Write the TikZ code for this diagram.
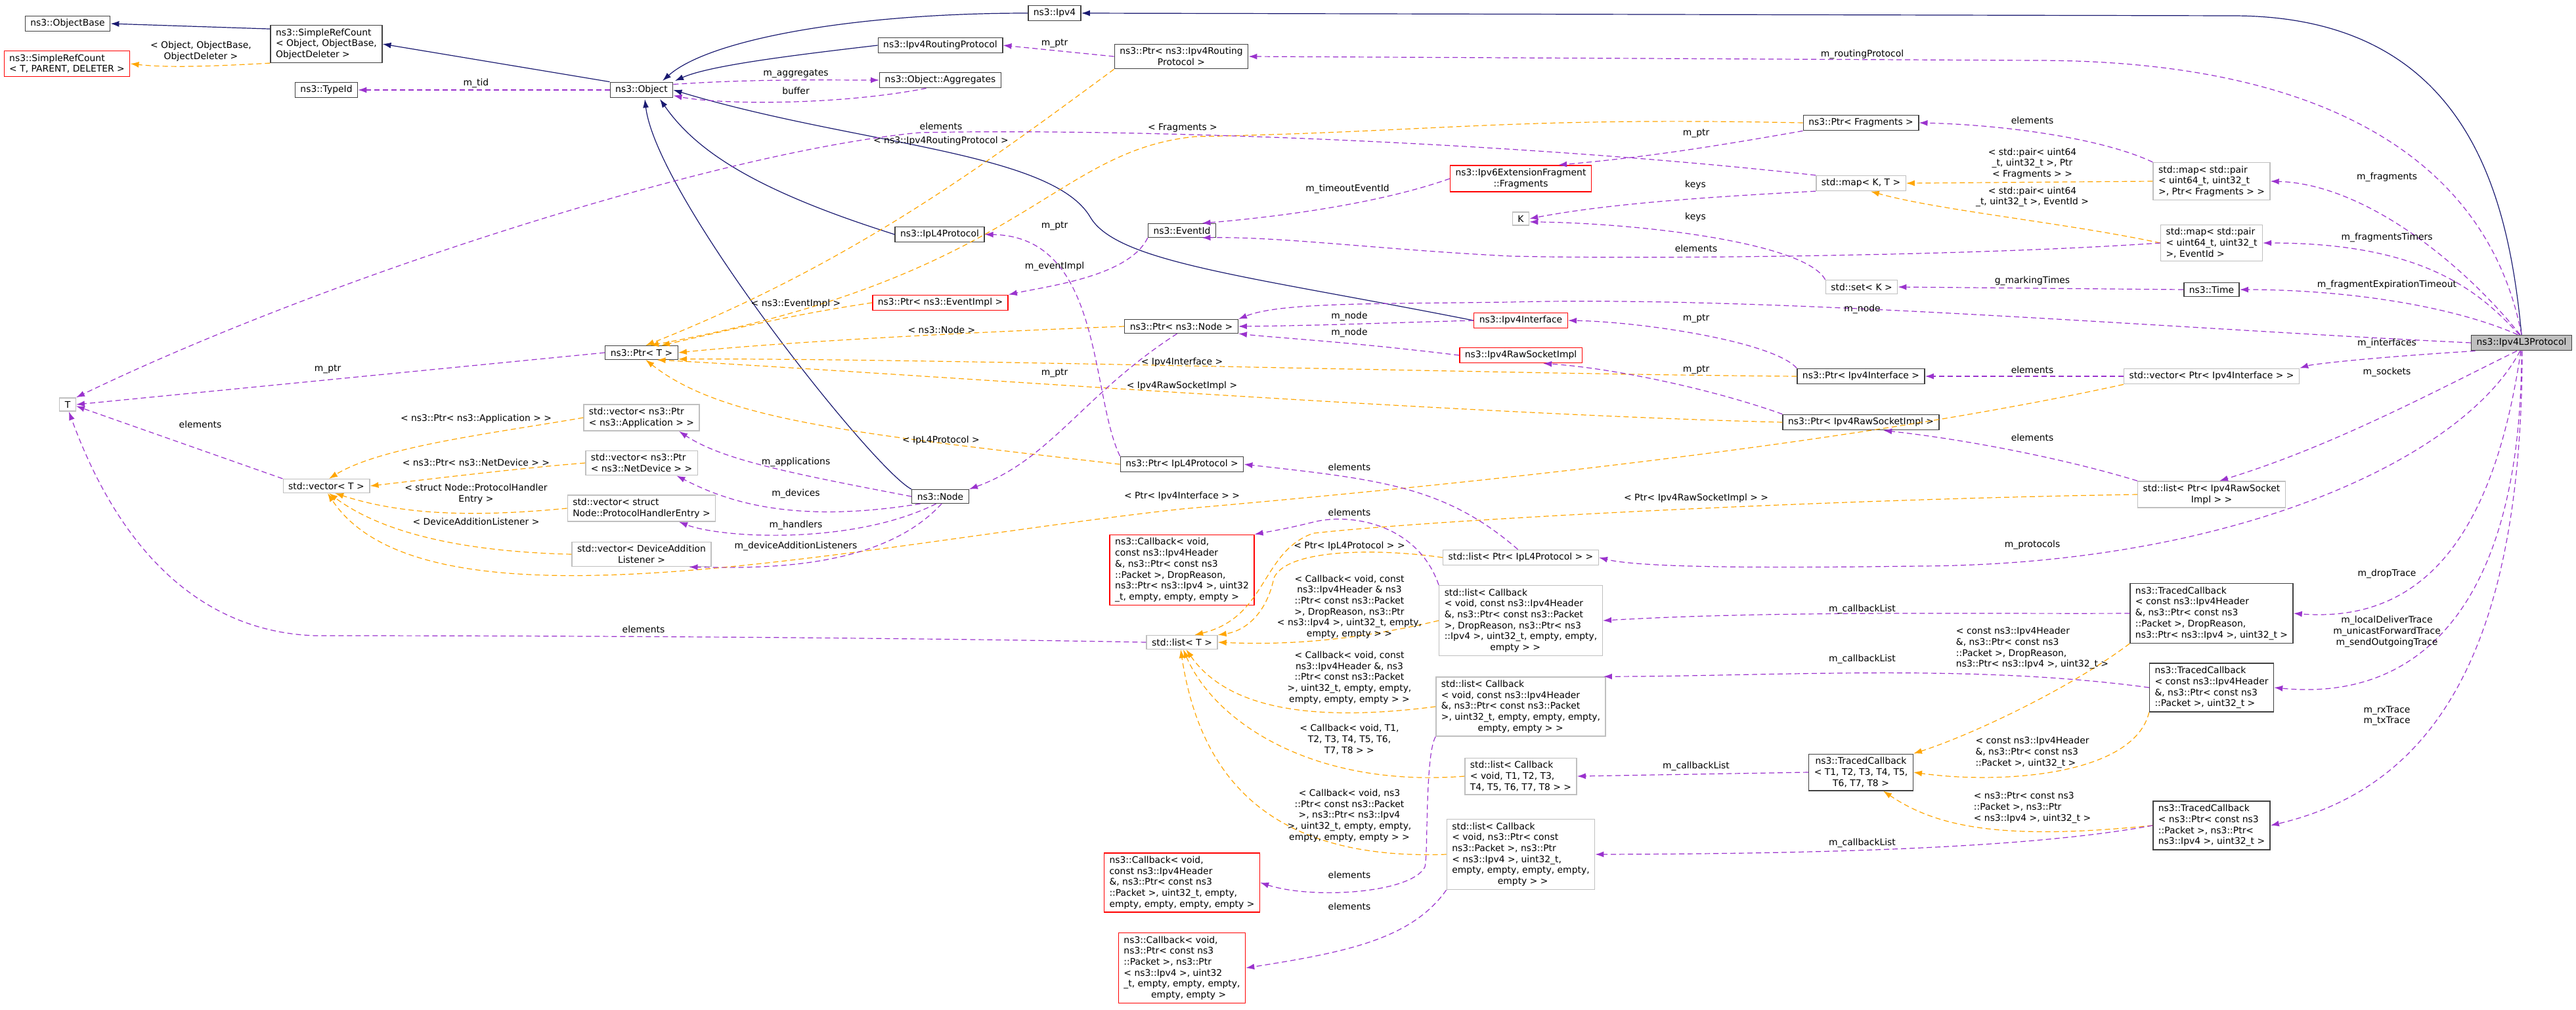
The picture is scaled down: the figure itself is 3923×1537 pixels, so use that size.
\documentclass[tikz,border=0pt]{standalone}
\usepackage{fontspec}
\setmainfont{DejaVu Sans}
\usetikzlibrary{arrows.meta}
\definecolor{inhc}{RGB}{25,25,112}
\definecolor{memc}{RGB}{154,50,205}
\definecolor{tplc}{RGB}{255,165,0}
\definecolor{grayb}{RGB}{191,191,191}
\definecolor{darkb}{RGB}{64,64,64}
\tikzset{
 every node/.style={font=\fontsize{13.9}{16.7}\selectfont},
 box/.style={draw=darkb,line width=1.4pt,inner xsep=8pt,inner ysep=5pt,align=left,fill=white},
 gbox/.style={box,draw=grayb},
 rbox/.style={box,draw=red},
 lbl/.style={align=center,inner sep=1pt},
 tip/.style={-{Latex[length=13pt,width=9pt]}},
 inh/.style={tip,draw=inhc,line width=1.2pt},
 mem/.style={tip,draw=memc,line width=1.2pt,dash pattern=on 8pt off 5pt},
 tpl/.style={tip,draw=tplc,line width=1.2pt,dash pattern=on 8pt off 5pt},
}
\begin{document}
\begin{tikzpicture}[x=1pt,y=-1pt]
\useasboundingbox (0,0) rectangle (3923,1537);
% nodes
\node[box] (objbase) at (103,36) {ns3::ObjectBase};
\node[box] (srcobj) at (497,67) {ns3::SimpleRefCount\\< Object, ObjectBase,\\ObjectDeleter >};
\node[rbox] (srct) at (102,97) {ns3::SimpleRefCount\\< T, PARENT, DELETER >};
\node[box] (typeid) at (497,137) {ns3::TypeId};
\node[box] (object) at (977,137) {ns3::Object};
\node[box] (ipv4) at (1606,20) {ns3::Ipv4};
\node[box] (iprp) at (1432,69) {ns3::Ipv4RoutingProtocol};
\node[box] (agg) at (1432,122) {ns3::Object::Aggregates};
\node[box,align=center] (ptrrp) at (1799,86) {ns3::Ptr< ns3::Ipv4Routing\\Protocol >};
\node[box] (ipl4) at (1431,357) {ns3::IpL4Protocol};
\node[box] (eventid) at (1800,351) {ns3::EventId};
\node[rbox] (ptrevimpl) at (1432,461) {ns3::Ptr< ns3::EventImpl >};
\node[box] (ptrnode) at (1799,497) {ns3::Ptr< ns3::Node >};
\node[box] (ptrfrag) at (2834,187) {ns3::Ptr< Fragments >};
\node[rbox,align=center] (v6frag) at (2316,272) {ns3::Ipv6ExtensionFragment\\::Fragments};
\node[gbox] (mapkt) at (2834,279) {std::map< K, T >};
\node[gbox] (K) at (2316,333) {K};
\node[gbox] (setk) at (2835,437) {std::set< K >};
\node[rbox] (ipv4if) at (2316,488) {ns3::Ipv4Interface};
\node[gbox] (mapfrag) at (3368,276) {std::map< std::pair\\< uint64\_t, uint32\_t\\ >, Ptr< Fragments > >};
\node[gbox] (mapev) at (3368,370) {std::map< std::pair\\< uint64\_t, uint32\_t\\ >, EventId >};
\node[box] (time) at (3368,441) {ns3::Time};
\node[box,fill=grayb] (l3) at (3840,522) {ns3::Ipv4L3Protocol};
\node[gbox] (T) at (103,616) {T};
\node[gbox] (vect) at (497,740) {std::vector< T >};
\node[box] (ptrt) at (977,537) {ns3::Ptr< T >};
\node[gbox] (vecapp) at (977,636) {std::vector< ns3::Ptr\\< ns3::Application > >};
\node[gbox] (vecnet) at (977,705) {std::vector< ns3::Ptr\\< ns3::NetDevice > >};
\node[gbox] (vechand) at (977,774) {std::vector< struct\\Node::ProtocolHandlerEntry >};
\node[gbox,align=center] (vecdal) at (977,844) {std::vector< DeviceAddition\\Listener >};
\node[box] (node) at (1432,756) {ns3::Node};
\node[box] (ptripl4) at (1800,707) {ns3::Ptr< IpL4Protocol >};
\node[rbox] (cb1) at (1800,868) {ns3::Callback< void,\\ const ns3::Ipv4Header\\ \&, ns3::Ptr< const ns3\\::Packet >, DropReason,\\ ns3::Ptr< ns3::Ipv4 >, uint32\\ \_t, empty, empty, empty >};
\node[gbox] (listt) at (1800,978) {std::list< T >};
\node[rbox] (rawsock) at (2316,541) {ns3::Ipv4RawSocketImpl};
\node[box] (ptrif) at (2834,573) {ns3::Ptr< Ipv4Interface >};
\node[box] (ptrraw) at (2834,643) {ns3::Ptr< Ipv4RawSocketImpl >};
\node[gbox] (listipl4) at (2316,849) {std::list< Ptr< IpL4Protocol > >};
\node[gbox] (listcbdrop) at (2316,945) {std::list< Callback\\< void, const ns3::Ipv4Header\\ \&, ns3::Ptr< const ns3::Packet\\ >, DropReason, ns3::Ptr< ns3\\::Ipv4 >, uint32\_t, empty, empty,\\\hspace*{5em}empty > >};
\node[gbox] (listcbhdr) at (2316,1076) {std::list< Callback\\< void, const ns3::Ipv4Header\\ \&, ns3::Ptr< const ns3::Packet\\ >, uint32\_t, empty, empty, empty,\\\hspace*{4em}empty, empty > >};
\node[gbox] (listcbt) at (2316,1182) {std::list< Callback\\< void, T1, T2, T3,\\ T4, T5, T6, T7, T8 > >};
\node[gbox] (listcbptr) at (2316,1301) {std::list< Callback\\< void, ns3::Ptr< const\\ ns3::Packet >, ns3::Ptr\\< ns3::Ipv4 >, uint32\_t,\\ empty, empty, empty, empty,\\\hspace*{5em}empty > >};
\node[rbox] (cb2) at (1800,1344) {ns3::Callback< void,\\ const ns3::Ipv4Header\\ \&, ns3::Ptr< const ns3\\::Packet >, uint32\_t, empty,\\ empty, empty, empty, empty >};
\node[rbox] (cb3) at (1800,1474) {ns3::Callback< void,\\ ns3::Ptr< const ns3\\::Packet >, ns3::Ptr\\< ns3::Ipv4 >, uint32\\\_t, empty, empty, empty,\\\hspace*{3em}empty, empty >};
\node[gbox] (vecif) at (3368,573) {std::vector< Ptr< Ipv4Interface > >};
\node[gbox,align=center] (listraw) at (3368,753) {std::list< Ptr< Ipv4RawSocket\\Impl > >};
\node[box] (tcdrop) at (3368,934) {ns3::TracedCallback\\< const ns3::Ipv4Header\\ \&, ns3::Ptr< const ns3\\::Packet >, DropReason,\\ ns3::Ptr< ns3::Ipv4 >, uint32\_t >};
\node[box] (tchdr) at (3368,1047) {ns3::TracedCallback\\< const ns3::Ipv4Header\\ \&, ns3::Ptr< const ns3\\ ::Packet >, uint32\_t >};
\node[box,align=center] (tct) at (2834,1176) {ns3::TracedCallback\\< T1, T2, T3, T4, T5,\\T6, T7, T8 >};
\node[box] (tcptr) at (3368,1257) {ns3::TracedCallback\\< ns3::Ptr< const ns3\\::Packet >, ns3::Ptr<\\ ns3::Ipv4 >, uint32\_t >};

% inheritance
\draw[inh] (srcobj.165) -- (objbase.east);
\draw[inh] (object.north west) -- (srcobj.east);
\draw[inh] (ipv4.west) .. controls (1300,20) and (1080,60) .. (1009,123);
\draw[inh] (iprp.west) .. controls (1200,85) and (1080,100) .. (1028,123);
\draw[inh] (ipl4.west) .. controls (1150,290) and (1060,230) .. (1005,151);
\draw[inh] (node.north west) .. controls (1330,715) and (1000,300) .. (982,151);
\draw[inh] (ipv4if.west) .. controls (1900,420) and (1700,400) .. (1660,330) .. controls (1600,230) and (1300,220) .. (object.east);
\draw[inh] (l3.north) .. controls (3820,300) and (3760,24) .. (3400,24) -- (ipv4.east);

% templates
\draw[tpl] (srcobj.south west) .. controls (340,100) and (260,104) .. (srct.east);
\draw[tpl] (ptrrp.south west) .. controls (1500,250) and (1300,400) .. (ptrt.60);
\draw[tpl] (ptrfrag.west) .. controls (2300,178) and (2200,200) .. (1820,208) .. controls (1600,230) and (1560,420) .. (ptrt.40);
\draw[tpl] (ptrevimpl.west) .. controls (1200,480) and (1100,505) .. (ptrt.20);
\draw[tpl] (ptrnode.west) .. controls (1500,505) and (1200,520) .. (ptrt.east);
\draw[tpl] (ptrif.west) .. controls (2300,570) and (1400,545) .. (ptrt.-10);
\draw[tpl] (ptrraw.west) .. controls (2200,630) and (1400,570) .. (ptrt.-25);
\draw[tpl] (ptripl4.west) .. controls (1300,660) and (1100,640) .. (ptrt.-60);
\draw[tpl] (vecapp.west) .. controls (750,660) and (580,680) .. (vect.70);
\draw[tpl] (vecnet.west) .. controls (800,712) and (650,730) .. (vect.east);
\draw[tpl] (vechand.west) .. controls (700,790) and (600,780) .. (vect.-40);
\draw[tpl] (vecdal.west) .. controls (700,840) and (580,810) .. (vect.-70);
\draw[tpl] (vecif.south west) .. controls (2800,680) and (2200,740) .. (1800,775) .. controls (1300,830) and (650,980) .. (vect.-80);
\draw[tpl] (mapfrag.west) -- (mapkt.east);
\draw[tpl] (mapev.west) .. controls (3150,340) and (2950,320) .. (mapkt.-40);
\draw[tpl] (listraw.west) .. controls (2800,760) and (2200,790) .. (2000,812) .. controls (1920,840) and (1930,940) .. (listt.30);
\draw[tpl] (listipl4.west) .. controls (2100,835) and (1960,835) .. (1940,880) .. controls (1930,930) and (1900,960) .. (listt.north east);
\draw[tpl] (listcbdrop.west) .. controls (2050,978) and (1950,982) .. (listt.east);
\draw[tpl] (listcbhdr.west) .. controls (2000,1100) and (1870,1080) .. (listt.-60);
\draw[tpl] (listcbt.west) .. controls (2000,1200) and (1850,1100) .. (listt.-80);
\draw[tpl] (listcbptr.west) .. controls (1950,1310) and (1830,1200) .. (listt.-100);
\draw[tpl] (tcdrop.south west) .. controls (3150,1050) and (3000,1120) .. (tct.north east);
\draw[tpl] (tchdr.south west) .. controls (3250,1180) and (3050,1195) .. (tct.east);
\draw[tpl] (tcptr.west) .. controls (3050,1280) and (2950,1260) .. (tct.-40);

% members
\draw[mem] (object.west) -- (typeid.east);
\draw[mem] (object.10) .. controls (1150,120) and (1250,122) .. (agg.west);
\draw[mem] (agg.-150) .. controls (1280,160) and (1100,160) .. (object.-10);
\draw[mem] (ptrrp.west) -- (iprp.east);
\draw[mem] (l3.north) .. controls (3790,250) and (3550,92) .. (3100,92) -- (ptrrp.east);
\draw[mem] (vect.north west) -- (T.-10);
\draw[mem] (ptrt.west) -- (T.east);
\draw[mem] (listt.west) .. controls (1200,968) and (600,968) .. (480,968) .. controls (250,960) and (150,750) .. (T.-80);
\draw[mem] (mapkt.170) .. controls (2300,215) and (1700,195) .. (1400,202) .. controls (1100,230) and (500,420) .. (T.north east);
\draw[mem] (ptrfrag.south west) .. controls (2600,225) and (2500,240) .. (v6frag.20);
\draw[mem] (mapfrag.north west) .. controls (3200,210) and (3050,190) .. (ptrfrag.east);
\draw[mem] (l3.100) .. controls (3750,400) and (3600,280) .. (mapfrag.east);
\draw[mem] (v6frag.west) .. controls (2100,310) and (1950,330) .. (eventid.20);
\draw[mem] (mapkt.-170) .. controls (2600,300) and (2450,310) .. (K.east);
\draw[mem] (setk.north west) .. controls (2750,370) and (2500,340) .. (K.-20);
\draw[mem] (mapev.west) .. controls (3000,390) and (2500,395) .. (2300,390) .. controls (2100,380) and (1950,360) .. (eventid.-20);
\draw[mem] (l3.105) .. controls (3780,450) and (3700,370) .. (mapev.east);
\draw[mem] (eventid.south west) .. controls (1720,420) and (1600,435) .. (ptrevimpl.north east);
\draw[mem] (time.west) -- (setk.east);
\draw[mem] (l3.115) .. controls (3720,460) and (3550,441) .. (time.east);
\draw[mem] (l3.west) .. controls (3300,500) and (2700,450) .. (2300,460) .. controls (2100,463) and (1950,460) .. (ptrnode.north east);
\draw[mem] (ipv4if.west) .. controls (2100,492) and (2000,496) .. (ptrnode.east);
\draw[mem] (rawsock.west) .. controls (2050,520) and (1950,515) .. (ptrnode.south east);
\draw[mem] (ptrnode.-120) .. controls (1650,600) and (1600,700) .. (node.north east);
\draw[mem] (ptripl4.north west) .. controls (1660,600) and (1680,360) .. (ipl4.east);
\draw[mem] (ptrif.north west) .. controls (2700,520) and (2500,490) .. (ipv4if.east);
\draw[mem] (vecif.west) -- (ptrif.east);
\draw[mem] (l3.-170) .. controls (3600,545) and (3520,555) .. (vecif.north east);
\draw[mem] (ptrraw.north west) .. controls (2600,590) and (2450,560) .. (rawsock.-20);
\draw[mem] (listraw.north west) .. controls (3150,700) and (3000,670) .. (ptrraw.-20);
\draw[mem] (l3.-120) .. controls (3700,600) and (3550,680) .. (listraw.60);
\draw[mem] (node.west) .. controls (1200,720) and (1100,700) .. (vecapp.-20);
\draw[mem] (node.-160) .. controls (1200,800) and (1100,760) .. (vecnet.-20);
\draw[mem] (node.-120) .. controls (1300,830) and (1100,820) .. (vechand.-20);
\draw[mem] (node.-80) .. controls (1340,870) and (1150,865) .. (vecdal.-15);
\draw[mem] (listipl4.110) .. controls (2200,740) and (2100,730) .. (ptripl4.east);
\draw[mem] (l3.-100) .. controls (3750,700) and (3400,860) .. (2923,862) .. controls (2700,865) and (2500,865) .. (listipl4.east);
\draw[mem] (listcbdrop.north west) .. controls (2160,800) and (2060,780) .. (2000,795) .. controls (1960,805) and (1930,810) .. (cb1.north east);
\draw[mem] (tcdrop.west) .. controls (3000,935) and (2700,930) .. (listcbdrop.east);
\draw[mem] (tchdr.west) .. controls (3000,1010) and (2700,1030) .. (listcbhdr.20);
\draw[mem] (tct.west) -- (listcbt.east);
\draw[mem] (tcptr.west) .. controls (3100,1290) and (2800,1300) .. (listcbptr.east);
\draw[mem] (listcbhdr.south west) .. controls (2170,1150) and (2175,1300) .. (2170,1320) .. controls (2150,1360) and (2000,1370) .. (cb2.east);
\draw[mem] (listcbptr.south west) .. controls (2150,1430) and (2050,1450) .. (cb3.east);
\draw[mem] (l3.-95) .. controls (3800,800) and (3700,950) .. (tcdrop.east);
\draw[mem] (l3.-90) .. controls (3840,900) and (3700,1070) .. (tchdr.east);
\draw[mem] (l3.-85) .. controls (3840,1000) and (3700,1200) .. (tcptr.east);

% labels
\node[lbl] (a1) at (306,78) {< Object, ObjectBase,\\ObjectDeleter >};
\node[lbl] (a2) at (725,127) {m\_tid};
\node[lbl] (a3) at (1606,66) {m\_ptr};
\node[lbl] (a4) at (1212,112) {m\_aggregates};
\node[lbl] (a5) at (1212,138) {buffer};
\node[lbl] (a6) at (1433,192) {elements};
\node[lbl] (a7) at (1433,215) {< ns3::Ipv4RoutingProtocol >};
\node[lbl] (a8) at (1801,195) {< Fragments >};
\node[lbl] (a9) at (1606,344) {m\_ptr};
\node[lbl] (a10) at (1606,406) {m\_eventImpl};
\node[lbl] (a11) at (1212,463) {< ns3::EventImpl >};
\node[lbl] (a12) at (1434,502) {< ns3::Node >};
\node[lbl] (a13) at (2836,83) {m\_routingProtocol};
\node[lbl] (a14) at (2583,203) {m\_ptr};
\node[lbl] (a15) at (2052,288) {m\_timeoutEventId};
\node[lbl] (a16) at (2582,282) {keys};
\node[lbl] (a17) at (2582,331) {keys};
\node[lbl] (a18) at (2583,378) {elements};
\node[lbl] (a19) at (2836,471) {m\_node};
\node[lbl] (a20) at (2055,482) {m\_node};
\node[lbl] (a21) at (2055,507) {m\_node};
\node[lbl] (a22) at (2583,485) {m\_ptr};
\node[lbl] (a23) at (3095,183) {elements};
\node[lbl] (a24) at (3095,249) {< std::pair< uint64\\\_t, uint32\_t >, Ptr\\< Fragments > >};
\node[lbl] (a25) at (3095,300) {< std::pair< uint64\\\_t, uint32\_t >, EventId >};
\node[lbl] (a26) at (3635,270) {m\_fragments};
\node[lbl] (a27) at (3635,362) {m\_fragmentsTimers};
\node[lbl] (a28) at (3095,428) {g\_markingTimes};
\node[lbl] (a29) at (3635,434) {m\_fragmentExpirationTimeout};
\node[lbl] (a30) at (499,562) {m\_ptr};
\node[lbl] (a31) at (305,646) {elements};
\node[lbl] (a32) at (725,638) {< ns3::Ptr< ns3::Application > >};
\node[lbl] (a33) at (725,704) {< ns3::Ptr< ns3::NetDevice > >};
\node[lbl] (a34) at (725,752) {< struct Node::ProtocolHandler\\Entry >};
\node[lbl] (a35) at (725,794) {< DeviceAdditionListener >};
\node[lbl] (a36) at (980,958) {elements};
\node[lbl] (a37) at (1800,552) {< Ipv4Interface >};
\node[lbl] (a38) at (1606,568) {m\_ptr};
\node[lbl] (a39) at (1800,588) {< Ipv4RawSocketImpl >};
\node[lbl] (a40) at (1433,671) {< IpL4Protocol >};
\node[lbl] (a41) at (1212,704) {m\_applications};
\node[lbl] (a42) at (1212,752) {m\_devices};
\node[lbl] (a43) at (1212,800) {m\_handlers};
\node[lbl] (a44) at (1212,832) {m\_deviceAdditionListeners};
\node[lbl] (a45) at (1800,756) {< Ptr< Ipv4Interface > >};
\node[lbl] (a46) at (2583,563) {m\_ptr};
\node[lbl] (a47) at (2055,711) {elements};
\node[lbl] (a48) at (2583,759) {< Ptr< Ipv4RawSocketImpl > >};
\node[lbl] (a49) at (2055,780) {elements};
\node[lbl] (a50) at (2055,832) {< Ptr< IpL4Protocol > >};
\node[lbl] (a51) at (2055,924) {< Callback< void, const\\ns3::Ipv4Header \& ns3\\::Ptr< const ns3::Packet\\>, DropReason, ns3::Ptr\\< ns3::Ipv4 >, uint32\_t, empty,\\empty, empty > >};
\node[lbl] (a52) at (2055,1032) {< Callback< void, const\\ns3::Ipv4Header \&, ns3\\::Ptr< const ns3::Packet\\>, uint32\_t, empty, empty,\\empty, empty, empty > >};
\node[lbl] (a53) at (2055,1126) {< Callback< void, T1,\\T2, T3, T4, T5, T6,\\T7, T8 > >};
\node[lbl] (a54) at (2055,1242) {< Callback< void, ns3\\::Ptr< const ns3::Packet\\>, ns3::Ptr< ns3::Ipv4\\>, uint32\_t, empty, empty,\\empty, empty, empty > >};
\node[lbl] (a55) at (2055,1332) {elements};
\node[lbl] (a56) at (2055,1380) {elements};
\node[lbl] (a57) at (2836,928) {m\_callbackList};
\node[lbl] (a58) at (2836,1004) {m\_callbackList};
\node[lbl] (a59) at (2583,1167) {m\_callbackList};
\node[lbl] (a60) at (2836,1284) {m\_callbackList};
\node[lbl] (a61) at (3635,523) {m\_interfaces};
\node[lbl] (a62) at (3095,563) {elements};
\node[lbl] (a63) at (3635,567) {m\_sockets};
\node[lbl] (a64) at (3095,666) {elements};
\node[lbl] (a65) at (3095,830) {m\_protocols};
\node[lbl] (a66) at (3635,874) {m\_dropTrace};
\node[lbl] (a67) at (3635,962) {m\_localDeliverTrace\\m\_unicastForwardTrace\\m\_sendOutgoingTrace};
\node[lbl,align=left] (a68) at (3095,987) {< const ns3::Ipv4Header\\\&, ns3::Ptr< const ns3\\::Packet >, DropReason,\\ns3::Ptr< ns3::Ipv4 >, uint32\_t >};
\node[lbl,align=left] (a69) at (3095,1146) {< const ns3::Ipv4Header\\\&, ns3::Ptr< const ns3\\ ::Packet >, uint32\_t >};
\node[lbl,align=left] (a70) at (3095,1230) {< ns3::Ptr< const ns3\\::Packet >, ns3::Ptr\\< ns3::Ipv4 >, uint32\_t >};
\node[lbl] (a71) at (3635,1090) {m\_rxTrace\\m\_txTrace};
\end{tikzpicture}
\end{document}
